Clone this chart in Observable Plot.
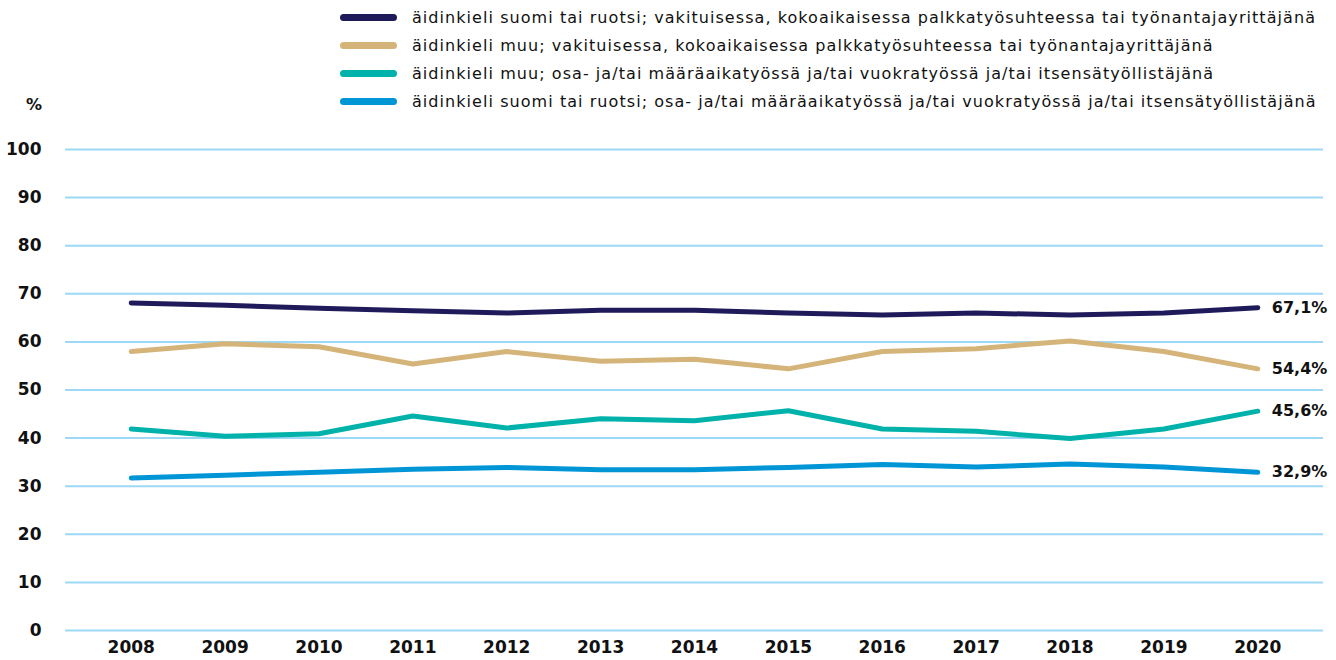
<!DOCTYPE html>
<html>
<head>
<meta charset="utf-8">
<script src="https://cdn.jsdelivr.net/npm/d3@7"></script>
<script src="https://cdn.jsdelivr.net/npm/@observablehq/plot@0.6"></script>
<style>
  html, body { margin: 0; padding: 0; background: #fff; }
  #wrap { position: relative; width: 1336px; height: 660px; font-family: "DejaVu Sans", sans-serif; color: #111; }
  #legend { position: absolute; left: 340px; top: 3px; }
  .row { display: flex; align-items: center; height: 28px; font-size: 16px; white-space: nowrap; }
  .sw { width: 57px; height: 7px; border-radius: 4px; margin-right: 15px; flex: none; }
  #pct { position: absolute; left: 26px; top: 95px; font-size: 16px; font-weight: 600; }
  #chart { position: absolute; left: 0; top: 0; }
</style>
</head>
<body>
<div id="wrap">
  <div id="chart"></div>
  <div id="legend"></div>
  <div id="pct">%</div>
</div>
<script>
const years = [2008, 2009, 2010, 2011, 2012, 2013, 2014, 2015, 2016, 2017, 2018, 2019, 2020];

const seriesNames = [
  "äidinkieli suomi tai ruotsi; vakituisessa, kokoaikaisessa palkkatyösuhteessa tai työnantajayrittäjänä",
  "äidinkieli muu; vakituisessa, kokoaikaisessa palkkatyösuhteessa tai työnantajayrittäjänä",
  "äidinkieli muu; osa- ja/tai määräaikatyössä ja/tai vuokratyössä ja/tai itsensätyöllistäjänä",
  "äidinkieli suomi tai ruotsi; osa- ja/tai määräaikatyössä ja/tai vuokratyössä ja/tai itsensätyöllistäjänä"
];
const seriesColors = ["#1f1b5b", "#d5b47a", "#00b2a9", "#0096d6"];

const nativeFull  = [68.1, 67.6, 67.0, 66.5, 66.0, 66.6, 66.6, 66.0, 65.6, 66.0, 65.6, 66.0, 67.1];
const foreignFull = [58.0, 59.6, 59.0, 55.4, 58.0, 56.0, 56.4, 54.4, 58.0, 58.6, 60.2, 58.0, 54.4];
const foreignAtyp = [41.9, 40.4, 40.9, 44.6, 42.1, 44.0, 43.6, 45.7, 41.9, 41.4, 39.9, 41.9, 45.6];
const nativeAtyp  = [31.7, 32.3, 32.9, 33.5, 33.9, 33.4, 33.4, 33.9, 34.5, 34.0, 34.6, 34.0, 32.9];

const yTicks = [0, 10, 20, 30, 40, 50, 60, 70, 80, 90, 100];

const allValues = [nativeFull, foreignFull, foreignAtyp, nativeAtyp];
const data = [];
allValues.forEach((vals, i) => vals.forEach((v, j) => data.push({series: seriesNames[i], year: years[j], value: v})));
const lastPoints = data.filter(d => d.year === years[years.length - 1]);

const chart = Plot.plot({
  width: 1336,
  height: 660,
  marginTop: 149,
  marginBottom: 30,
  marginLeft: 65,
  marginRight: 13,
  style: {fontFamily: "'DejaVu Sans', sans-serif", fontSize: "16px", color: "#111", background: "transparent"},
  x: {type: "point", domain: years, padding: 0.7, round: false, label: null},
  y: {domain: [0, 100], label: null},
  color: {domain: seriesNames, range: seriesColors},
  marks: [
    Plot.ruleY(yTicks, {stroke: "#9dd8f5", strokeWidth: 2}),
    Plot.axisY({ticks: yTicks, tickSize: 0, tickPadding: 24, fontWeight: 600, fontSize: 17, label: null}),
    Plot.axisX({tickSize: 0, tickPadding: 10, fontWeight: 600, fontSize: 17, label: null, tickFormat: d => String(d)}),
    Plot.line(data, {x: "year", y: "value", z: "series", stroke: "series", strokeWidth: 5, strokeLinecap: "round", strokeLinejoin: "round"}),
    Plot.text(lastPoints, {x: "year", y: "value", text: d => d.value.toFixed(1).replace(".", ",") + "%", textAnchor: "start", dx: 14, fontWeight: 600, fontSize: 16, fill: "#111"})
  ]
});
document.getElementById("chart").appendChild(chart);

const legend = document.getElementById("legend");
const spans = [];
seriesNames.forEach((name, i) => {
  const row = document.createElement("div");
  row.className = "row";
  const sw = document.createElement("div");
  sw.className = "sw";
  sw.style.background = seriesColors[i];
  const t = document.createElement("span");
  t.textContent = name;
  row.appendChild(sw);
  row.appendChild(t);
  legend.appendChild(row);
  spans.push(t);
});
// fit the longest legend line to the reference width
const target = 904;
const w0 = spans[0].getBoundingClientRect().width;
const ls = (target - w0) / seriesNames[0].length;
spans.forEach(s => s.style.letterSpacing = ls + "px");
</script>
</body>
</html>
